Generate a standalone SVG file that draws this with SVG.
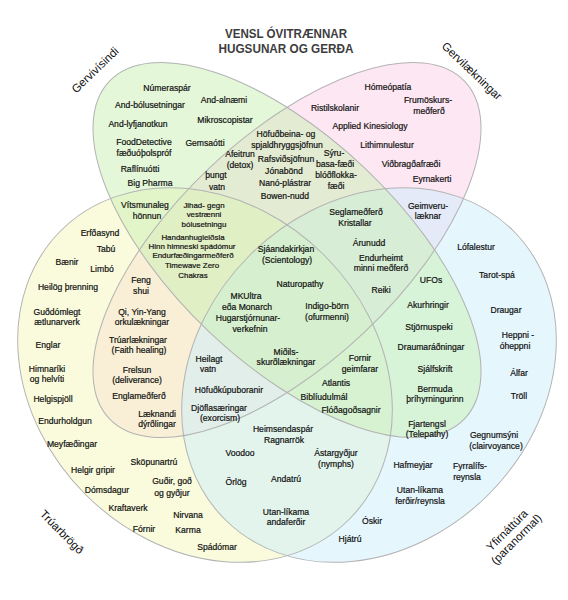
<svg xmlns="http://www.w3.org/2000/svg" width="568" height="600" viewBox="0 0 568 600">
<style>
.fill{fill-opacity:0.5;stroke:none}
.edge{fill:none;stroke:#b3b3b3;stroke-width:1}
text{font-family:"Liberation Sans",Arial,sans-serif;fill:#111}
.t{font-size:8.6px;text-anchor:middle;stroke:#111;stroke-width:0.2}
.s{font-size:7.9px;text-anchor:middle;stroke:#111;stroke-width:0.2}
.cat{font-size:11.5px;text-anchor:middle}
.title{font-size:13px;font-weight:bold;fill:#3d3d3d;text-anchor:middle}
</style>
<defs>
<ellipse id="eG" cx="0" cy="0" rx="245" ry="113" transform="translate(287,250) rotate(43.5)"/>
<ellipse id="eP" cx="0" cy="0" rx="245" ry="113" transform="translate(287,250) rotate(-43.5)"/>
<ellipse id="eY" cx="0" cy="0" rx="204" ry="169" transform="translate(205,375) rotate(45)"/>
<ellipse id="eB" cx="0" cy="0" rx="204" ry="169" transform="translate(369,375) rotate(-45)"/>
</defs>
<rect width="568" height="600" fill="#ffffff"/>
<g id="fills">
<use href="#eP" class="fill" fill="#fbcfe7"/>
<use href="#eY" class="fill" fill="#f3f7b9"/>
<use href="#eB" class="fill" fill="#cbedfb"/>
<use href="#eG" class="fill" fill="#c9efb3"/>
</g>
<g id="outlines">
<use href="#eP" class="edge"/>
<use href="#eY" class="edge"/>
<use href="#eB" class="edge"/>
<use href="#eG" class="edge"/>
</g>
<g id="title">
<text class="title" x="286" y="38" textLength="122" lengthAdjust="spacingAndGlyphs">VENSL ÓVITRÆNNAR</text>
<text class="title" x="286" y="53" textLength="135" lengthAdjust="spacingAndGlyphs">HUGSUNAR OG GERÐA</text>
</g>
<g id="categories">
<text class="cat" transform="translate(95,70) rotate(-44)" y="4">Gervivísindi</text>
<text class="cat" transform="translate(472,71) rotate(43.5)" y="4">Gervilækningar</text>
<text class="cat" transform="translate(62,532) rotate(45)" y="4">Trúarbrögð</text>
<text class="cat" transform="translate(512,535) rotate(-45)"><tspan x="0" y="-3">Yfirnáttúra</tspan><tspan x="0" y="10">(paranormal)</tspan></text>
</g>
<g id="gervivisindi">
<text class="t" x="167" y="91">Númeraspár</text>
<text class="t" x="150" y="108">And-bólusetningar</text>
<text class="t" x="224" y="103">And-alnæmi</text>
<text class="t" x="138" y="127">And-lyfjanotkun</text>
<text class="t" x="225" y="123">Mikroscopistar</text>
<text class="t" x="144" y="145">FoodDetective</text>
<text class="t" x="144" y="156">fæðuóþolspróf</text>
<text class="t" x="205" y="146">Gemsaótti</text>
<text class="t" x="140" y="172">Raflínuótti</text>
<text class="t" x="150" y="186">Big Pharma</text>
</g>
<g id="gervivisindi-gervilaekningar">
<text class="t" x="286" y="137">Höfuðbeina- og</text>
<text class="t" x="287" y="148">spjaldhryggsjöfnun</text>
<text class="t" x="240" y="157">Afeitrun</text>
<text class="t" x="240" y="168">(detox)</text>
<text class="t" x="286" y="162">Rafsviðsjöfnun</text>
<text class="t" x="334" y="156">Sýru-</text>
<text class="t" x="335" y="167">basa-fæði</text>
<text class="t" x="336" y="178">blóðflokka-</text>
<text class="t" x="336" y="189">fæði</text>
<text class="t" x="284" y="174">Jónabönd</text>
<text class="t" x="285" y="186">Nanó-plástrar</text>
<text class="t" x="285" y="199">Bowen-nudd</text>
<text class="t" x="216" y="178">þungt</text>
<text class="t" x="217" y="190">vatn</text>
</g>
<g id="gervivisindi-truarbrogd">
<text class="t" x="145" y="208">Vítsmunaleg</text>
<text class="t" x="147" y="219">hönnun</text>
</g>
<g id="gervivisindi-gervilaekningar-truarbrogd">
<text class="s" x="204" y="208">Jihad- gegn</text>
<text class="s" x="204" y="217">vestrænni</text>
<text class="s" x="204" y="227">bólusetningu</text>
<text class="s" x="193" y="240">Handanhugleiðsla</text>
<text class="s" x="192" y="249">Hinn himneski spádómur</text>
<text class="s" x="193" y="258">Endurfæðingarmeðferð</text>
<text class="s" x="192" y="268">Timewave Zero</text>
<text class="s" x="193" y="278">Chakras</text>
</g>
<g id="gervilaekningar">
<text class="t" x="388" y="90">Hómeópatía</text>
<text class="t" x="428" y="103">Frumöskurs-</text>
<text class="t" x="429" y="114">meðferð</text>
<text class="t" x="335" y="111">Ristilskolanir</text>
<text class="t" x="370" y="129">Applied Kinesiology</text>
<text class="t" x="387" y="148">Lithimnulestur</text>
<text class="t" x="411" y="167">Viðbragðafræði</text>
<text class="t" x="432" y="182">Eyrnakerti</text>
</g>
<g id="gervilaekningar-yfirnattura">
<text class="t" x="428" y="209">Geimveru-</text>
<text class="t" x="428" y="219">læknar</text>
</g>
<g id="gervivisindi-gervilaekningar-yfirnattura">
<text class="t" x="356" y="215">Seglameðferð</text>
<text class="t" x="355" y="226">Kristallar</text>
<text class="t" x="369" y="246">Árunudd</text>
<text class="t" x="381" y="261">Endurheimt</text>
<text class="t" x="381" y="271">minni meðferð</text>
<text class="t" x="381" y="293">Reiki</text>
</g>
<g id="yfirnattura">
<text class="t" x="476" y="250">Lófalestur</text>
<text class="t" x="497" y="278">Tarot-spá</text>
<text class="t" x="506" y="313">Draugar</text>
<text class="t" x="518" y="338">Heppni -</text>
<text class="t" x="515" y="349">óheppni</text>
<text class="t" x="519" y="376">Álfar</text>
<text class="t" x="519" y="399">Tröll</text>
<text class="t" x="494" y="438">Gegnumsýni</text>
<text class="t" x="496" y="449">(clairvoyance)</text>
<text class="t" x="413" y="468">Hafmeyjar</text>
<text class="t" x="470" y="469">Fyrralífs-</text>
<text class="t" x="467" y="480">reynsla</text>
<text class="t" x="420" y="493">Utan-líkama</text>
<text class="t" x="420" y="504">ferðir/reynsla</text>
<text class="t" x="372" y="524">Óskir</text>
<text class="t" x="350" y="542">Hjátrú</text>
</g>
<g id="gervivisindi-yfirnattura">
<text class="t" x="431" y="283">UFOs</text>
<text class="t" x="428" y="308">Akurhringir</text>
<text class="t" x="429" y="330">Stjörnuspeki</text>
<text class="t" x="431" y="350">Draumaráðningar</text>
<text class="t" x="435" y="372">Sjálfskrift</text>
<text class="t" x="435" y="392">Bermuda</text>
<text class="t" x="435" y="402">þríhyrningurinn</text>
<text class="t" x="427" y="427">Fjartengsl</text>
<text class="t" x="427" y="437">(Telepathy)</text>
</g>
<g id="allt">
<text class="t" x="286" y="252">Sjáandakirkjan</text>
<text class="t" x="287" y="263">(Scientology)</text>
<text class="t" x="300" y="287">Naturopathy</text>
<text class="t" x="246" y="299">MKUltra</text>
<text class="t" x="247" y="310">eða Monarch</text>
<text class="t" x="248" y="321">Hugarstjórnunar-</text>
<text class="t" x="250" y="332">verkefnin</text>
<text class="t" x="327" y="309">Indigo-börn</text>
<text class="t" x="327" y="320">(ofurmenni)</text>
<text class="t" x="286" y="355">Miðils-</text>
<text class="t" x="286" y="365">skurðlækningar</text>
</g>
<g id="gervivisindi-truarbrogd-yfirnattura">
<text class="t" x="360" y="361">Fornir</text>
<text class="t" x="360" y="372">geimfarar</text>
<text class="t" x="336" y="386">Atlantis</text>
<text class="t" x="324" y="400">Biblíudulmál</text>
<text class="t" x="351" y="413">Flóðagoðsagnir</text>
</g>
<g id="gervilaekningar-truarbrogd-yfirnattura">
<text class="t" x="209" y="362">Heilagt</text>
<text class="t" x="208" y="372">vatn</text>
<text class="t" x="229" y="393">Höfuðkúpuboranir</text>
<text class="t" x="219" y="411">Djöflasæringar</text>
<text class="t" x="220" y="421">(exorcism)</text>
</g>
<g id="gervilaekningar-truarbrogd">
<text class="t" x="141" y="283">Feng</text>
<text class="t" x="141" y="294">shui</text>
<text class="t" x="142" y="315">Qi, Yin-Yang</text>
<text class="t" x="142" y="325">orkulækningar</text>
<text class="t" x="138" y="343">Trúarlækningar</text>
<text class="t" x="139" y="353">(Faith healing)</text>
<text class="t" x="137" y="373">Frelsun</text>
<text class="t" x="137" y="383">(deliverance)</text>
<text class="t" x="139" y="399">Englameðferð</text>
<text class="t" x="157" y="417">Læknandi</text>
<text class="t" x="157" y="427">dýrðlingar</text>
</g>
<g id="truarbrogd">
<text class="t" x="100" y="236">Erfðasynd</text>
<text class="t" x="106" y="252">Tabú</text>
<text class="t" x="67" y="265">Bænir</text>
<text class="t" x="102" y="272">Limbó</text>
<text class="t" x="68" y="290">Heilög þrenning</text>
<text class="t" x="57" y="315">Guðdómlegt</text>
<text class="t" x="57" y="325">ætlunarverk</text>
<text class="t" x="48" y="348">Englar</text>
<text class="t" x="47" y="372">Himnaríki</text>
<text class="t" x="47" y="382">og helvíti</text>
<text class="t" x="53" y="402">Helgispjöll</text>
<text class="t" x="65" y="424">Endurholdgun</text>
<text class="t" x="72" y="447">Meyfæðingar</text>
<text class="t" x="93" y="473">Helgir gripir</text>
<text class="t" x="154" y="465">Sköpunartrú</text>
<text class="t" x="107" y="493">Dómsdagur</text>
<text class="t" x="172" y="484">Guðir, goð</text>
<text class="t" x="172" y="496">og gyðjur</text>
<text class="t" x="128" y="511">Kraftaverk</text>
<text class="t" x="188" y="518">Nirvana</text>
<text class="t" x="144" y="532">Fórnir</text>
<text class="t" x="188" y="533">Karma</text>
<text class="t" x="217" y="550">Spádómar</text>
</g>
<g id="truarbrogd-yfirnattura">
<text class="t" x="283" y="432">Heimsendaspár</text>
<text class="t" x="284" y="443">Ragnarrök</text>
<text class="t" x="240" y="456">Voodoo</text>
<text class="t" x="336" y="456">Ástargyðjur</text>
<text class="t" x="336" y="467">(nymphs)</text>
<text class="t" x="236" y="485">Örlög</text>
<text class="t" x="286" y="482">Andatrú</text>
<text class="t" x="286" y="515">Utan-líkama</text>
<text class="t" x="286" y="525">andaferðir</text>
</g>
</svg>
